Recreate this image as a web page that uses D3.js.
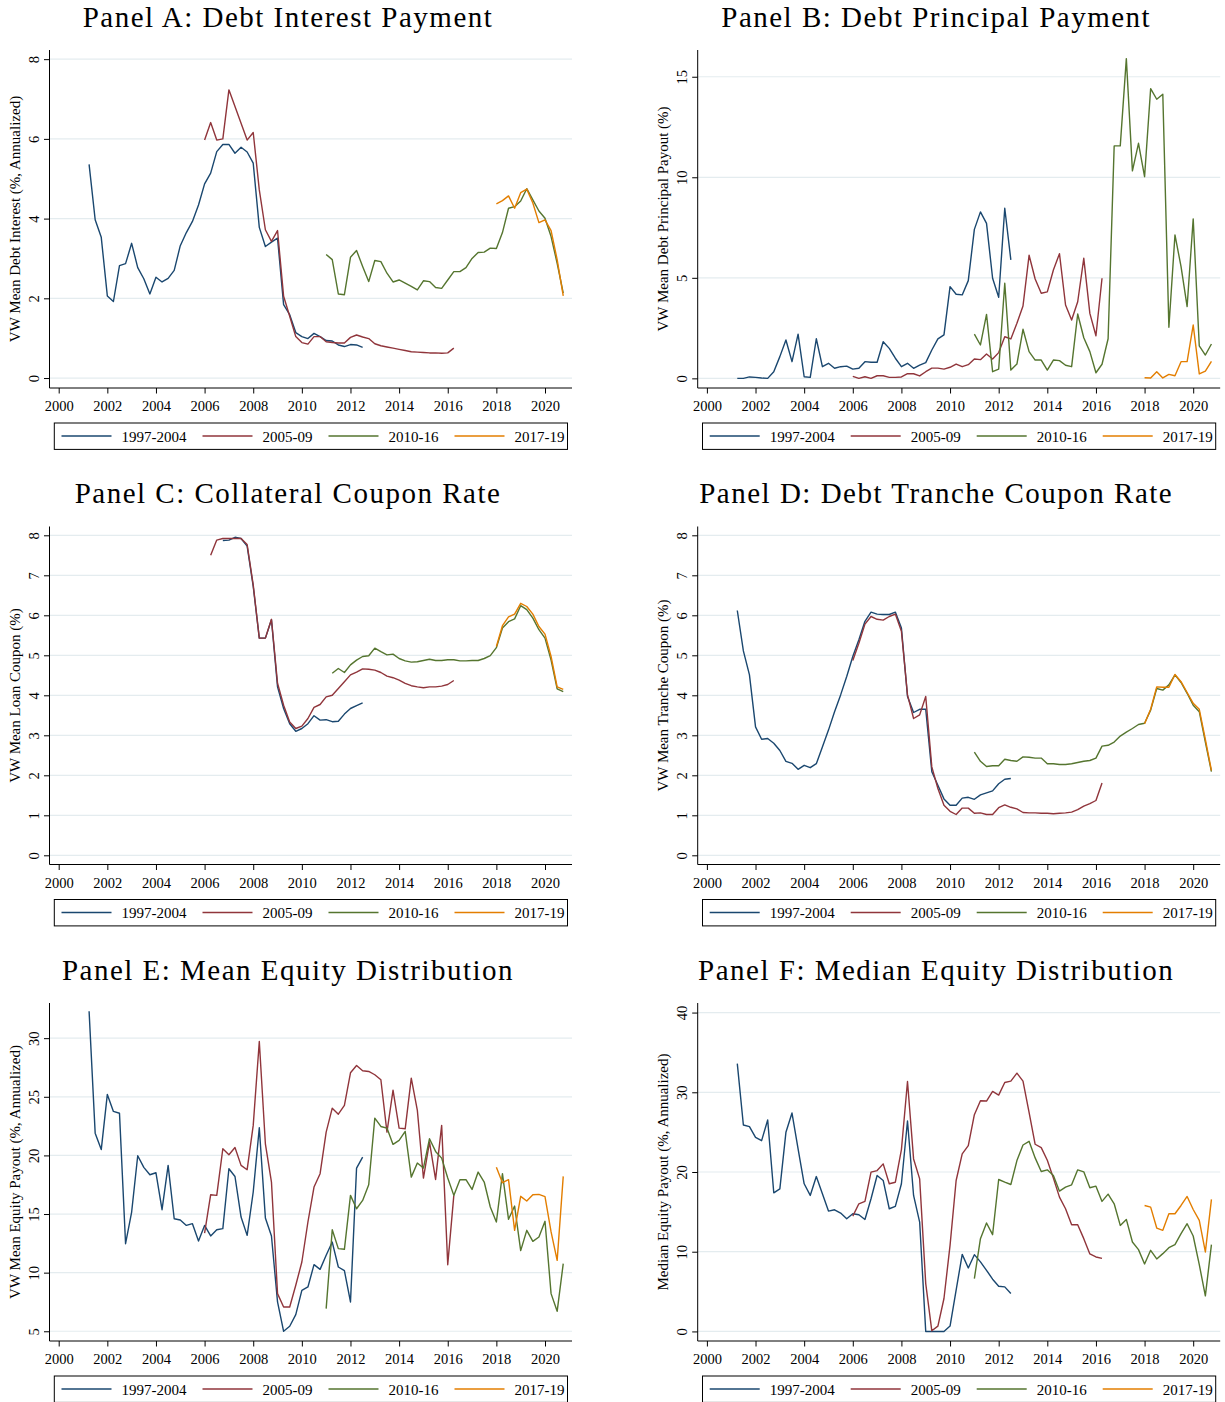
<!DOCTYPE html>
<html>
<head>
<meta charset="utf-8">
<script src="https://cdn.jsdelivr.net/npm/d3@7"></script>
<style>
  body { margin: 0; background: #fff; }
  svg { display: block; }
</style>
</head>
<body>
<div id="chart"></div>
<script>
// vintages and their colours (Stata s2color)
let vintages = ["1997-2004", "2005-09", "2010-16", "2017-19"];
let colors = ["#1a476f", "#90353b", "#55752f", "#e37e00"];

// first quarter of each series (year + (q-1)/4)
let starts = [2001.25, 2006.0, 2011.0, 2018.0];
let startsC = [2006.75, 2006.25, 2011.25, 2018.0];

// Panel A: debt interest payment
let aBlue = [5.36,3.97,3.53,2.06,1.92,2.82,2.87,3.38,2.77,2.49,2.11,2.53,2.41,2.50,2.70,3.32,3.65,3.93,4.34,4.87,5.14,5.68,5.86,5.86,5.64,5.79,5.67,5.39,3.78,3.30,3.41,3.51,1.84,1.59,1.14,1.04,0.99,1.12,1.04,0.94,0.93,0.83,0.79,0.84,0.83,0.77];
let aRed = [5.97,6.41,5.97,6.00,7.23,6.81,6.39,5.97,6.16,4.72,3.72,3.43,3.70,2.05,1.55,1.04,0.89,0.85,1.04,1.04,0.91,0.89,0.88,0.88,1.02,1.08,1.03,0.99,0.86,0.81,0.78,0.75,0.72,0.69,0.66,0.65,0.64,0.63,0.63,0.62,0.63,0.75];
let aGreen = [3.10,2.97,2.11,2.09,3.03,3.20,2.80,2.42,2.95,2.92,2.63,2.41,2.46,2.38,2.30,2.21,2.44,2.42,2.27,2.25,2.46,2.67,2.67,2.77,3.00,3.15,3.16,3.26,3.25,3.65,4.26,4.30,4.44,4.75,4.47,4.19,4.01,3.55,2.88,2.13];
let aOrange = [4.37,4.45,4.57,4.26,4.65,4.74,4.39,3.90,3.97,3.70,2.97,2.06];

// Panel B: debt principal payment
let bBlue = [0.00,0.00,0.07,0.05,0.02,0.00,0.33,1.08,1.91,0.83,2.20,0.08,0.05,1.97,0.58,0.75,0.50,0.58,0.61,0.46,0.50,0.83,0.80,0.80,1.82,1.49,1.00,0.58,0.75,0.50,0.66,0.78,1.41,1.96,2.16,4.56,4.18,4.15,4.86,7.41,8.28,7.71,4.98,4.03,8.46,5.89];
let bRed = [0.10,0.00,0.08,0.00,0.13,0.13,0.05,0.05,0.07,0.23,0.23,0.12,0.33,0.51,0.51,0.46,0.55,0.71,0.58,0.68,0.96,0.93,1.21,0.96,1.28,2.07,1.96,2.74,3.60,6.12,4.94,4.23,4.30,5.39,6.20,3.65,2.90,3.81,5.97,3.23,2.12,4.98];
let bGreen = [2.20,1.66,3.18,0.33,0.46,4.73,0.41,0.71,2.44,1.33,0.91,0.91,0.41,0.91,0.88,0.65,0.58,3.20,2.02,1.33,0.28,0.70,1.97,11.56,11.56,15.90,10.32,11.69,10.03,14.41,13.88,14.13,2.54,7.13,5.56,3.57,7.93,1.61,1.16,1.71];
let bOrange = [0.03,0.02,0.33,0.02,0.20,0.13,0.83,0.83,2.65,0.22,0.36,0.85];

// Panel C: collateral coupon rate
let cBlue = [7.87,7.88,7.95,7.92,7.73,6.72,5.43,5.43,5.89,4.21,3.67,3.29,3.10,3.17,3.29,3.49,3.38,3.39,3.34,3.35,3.53,3.67,3.74,3.81];
let cRed = [7.50,7.88,7.92,7.92,7.92,7.92,7.77,6.76,5.43,5.43,5.90,4.30,3.75,3.33,3.17,3.23,3.42,3.70,3.77,3.96,4.00,4.17,4.34,4.51,4.58,4.66,4.65,4.63,4.57,4.48,4.44,4.38,4.30,4.24,4.21,4.19,4.21,4.21,4.23,4.27,4.37];
let cGreen = [4.55,4.67,4.57,4.76,4.88,4.97,4.99,5.18,5.09,5.01,5.03,4.92,4.86,4.83,4.84,4.87,4.90,4.87,4.87,4.89,4.89,4.86,4.86,4.87,4.87,4.92,4.99,5.19,5.68,5.84,5.91,6.24,6.14,5.93,5.64,5.43,4.88,4.16,4.09];
let cOrange = [5.22,5.74,5.96,6.03,6.30,6.22,6.03,5.72,5.53,4.97,4.21,4.15];

// Panel D: debt tranche coupon rate
let dBlue = [6.12,5.11,4.51,3.21,2.90,2.92,2.80,2.62,2.35,2.30,2.15,2.25,2.19,2.29,2.71,3.13,3.59,4.01,4.47,4.97,5.39,5.85,6.08,6.03,6.02,6.02,6.08,5.68,3.97,3.57,3.65,3.65,2.09,1.75,1.41,1.25,1.25,1.43,1.45,1.40,1.51,1.56,1.61,1.79,1.90,1.92];
let dRed = [4.87,5.30,5.78,5.97,5.90,5.88,5.97,6.03,5.60,4.01,3.42,3.51,3.97,2.21,1.67,1.25,1.10,1.02,1.18,1.18,1.05,1.06,1.02,1.02,1.19,1.26,1.20,1.16,1.07,1.06,1.06,1.05,1.05,1.04,1.05,1.06,1.08,1.14,1.23,1.29,1.37,1.81];
let dGreen = [2.58,2.35,2.22,2.24,2.24,2.40,2.37,2.35,2.46,2.45,2.43,2.43,2.29,2.29,2.27,2.27,2.29,2.32,2.35,2.37,2.43,2.73,2.75,2.83,2.98,3.08,3.17,3.27,3.30,3.63,4.17,4.13,4.26,4.51,4.32,4.05,3.75,3.59,2.83,2.09];
let dOrange = [3.29,3.65,4.21,4.20,4.20,4.52,4.34,4.07,3.80,3.65,2.90,2.12];

// Panel E: mean equity distribution
let eBlue = [32.3,21.9,20.5,25.2,23.75,23.6,12.47,15.17,19.97,18.98,18.35,18.52,15.37,19.15,14.6,14.49,14.03,14.18,12.7,14.03,13.13,13.66,13.75,18.86,18.2,14.74,13.18,16.88,22.36,14.66,13.13,7.5,5.0,5.43,6.42,8.49,8.78,10.68,10.28,11.48,12.61,10.48,10.17,7.5,18.92,19.86];
let eRed = [13.38,16.65,16.59,20.57,20.06,20.68,19.15,18.78,22.56,29.72,20.99,17.73,8.21,7.07,7.07,8.92,10.91,14.32,17.3,18.44,21.99,24.03,23.52,24.26,27.05,27.67,27.22,27.16,26.88,26.45,21.99,25.57,22.33,22.27,26.59,23.84,18.07,21.14,17.95,22.56,10.68,16.59];
let eGreen = [6.93,13.66,12.05,11.99,16.59,15.45,16.16,17.5,23.18,22.47,22.33,20.94,21.28,22.05,18.15,19.35,18.92,21.42,20.34,19.77,18.07,16.59,17.93,17.93,17.1,18.58,17.73,15.6,14.32,18.44,14.55,15.68,11.88,13.61,12.67,13.04,14.38,8.21,6.7,10.77];
let eOrange = [19.0,17.67,17.93,13.61,16.51,16.11,16.65,16.68,16.48,13.47,11.05,18.21];

// Panel F: median equity distribution
let fBlue = [33.6,25.9,25.7,24.35,23.93,26.52,17.39,17.89,24.98,27.4,22.89,18.52,17.06,19.43,17.27,15.1,15.26,14.85,14.14,14.76,14.64,14.05,16.64,19.56,18.94,15.39,15.68,18.52,26.4,17.06,13.72,0,0,0,0,0.67,5.17,9.67,7.96,9.63,8.72,7.67,6.55,5.67,5.59,4.75];
let fRed = [14.47,16.01,16.31,19.98,20.18,21.02,18.52,18.72,22.81,31.36,21.64,19.14,6.0,0.08,0.67,4.13,10.8,18.93,22.27,23.31,27.19,28.94,28.9,30.11,29.65,31.23,31.4,32.4,31.4,27.48,23.48,23.06,21.48,19.23,16.85,15.39,13.39,13.39,11.64,9.72,9.34,9.17];
let fGreen = [6.63,11.64,13.6,12.14,19.06,18.72,18.43,21.43,23.39,23.85,21.77,20.06,20.27,19.56,17.6,18.1,18.39,20.27,20.02,18.02,18.22,16.31,17.22,16.01,13.3,14.05,11.22,10.26,8.47,10.18,9.09,9.76,10.51,10.89,12.26,13.51,11.97,8.38,4.46,10.89];
let fOrange = [15.8,15.6,12.97,12.68,14.76,14.76,15.8,16.93,15.3,13.93,9.97,16.56];

let yearTicks = d3.range(2000, 2021, 2);

let panels = [
  {title: "Panel A: Debt Interest Payment", ylabel: "VW Mean Debt Interest (%, Annualized)",
   series: [aBlue, aRed, aGreen, aOrange], starts: starts, ticks: [0, 2, 4, 6, 8], ydom: [-0.25, 8.23]},
  {title: "Panel B: Debt Principal Payment", ylabel: "VW Mean Debt Principal Payout (%)",
   series: [bBlue, bRed, bGreen, bOrange], starts: starts, ticks: [0, 5, 10, 15], ydom: [-0.48, 16.33]},
  {title: "Panel C: Collateral Coupon Rate", ylabel: "VW Mean Loan Coupon (%)",
   series: [cBlue, cRed, cGreen, cOrange], starts: startsC, ticks: [0, 1, 2, 3, 4, 5, 6, 7, 8], ydom: [-0.23, 8.22]},
  {title: "Panel D: Debt Tranche Coupon Rate", ylabel: "VW Mean Tranche Coupon (%)",
   series: [dBlue, dRed, dGreen, dOrange], starts: starts, ticks: [0, 1, 2, 3, 4, 5, 6, 7, 8], ydom: [-0.23, 8.22]},
  {title: "Panel E: Mean Equity Distribution", ylabel: "VW Mean Equity Payout (%, Annualized)",
   series: [eBlue, eRed, eGreen, eOrange], starts: starts, ticks: [5, 10, 15, 20, 25, 30], ydom: [4.17, 33.0]},
  {title: "Panel F: Median Equity Distribution", ylabel: "Median Equity Payout (%, Annualized)",
   series: [fBlue, fRed, fGreen, fOrange], starts: starts, ticks: [0, 10, 20, 30, 40], ydom: [-1.2, 41.2]}
];

let width = 1225,
    height = 1402;

let serif = "'Liberation Serif', 'Times New Roman', serif";

let svg = d3.select("#chart")
    .append("svg")
    .attr("width", width)
    .attr("height", height)
    .attr("viewBox", "0 0 " + width + " " + height);

panels.forEach(function(p, i) {
    let col = i % 2, row = Math.floor(i / 2);
    let x0 = col ? 697.7 : 49.5;       // y-axis position
    let top = 50 + row * 476.5;
    let bottom = 388 + row * 476.5;    // x-axis position
    let right = x0 + 522.5;

    let x = d3.scaleLinear().domain([2000, 2020]).range([x0 + 9.2, x0 + 495.5]);
    let y = d3.scaleLinear().domain(p.ydom).range([bottom, top]);

    let g = svg.append("g");

    // title (wider spacing, closer to the LaTeX font of the original)
    g.append("text")
        .attr("x", x0 + 238.5)
        .attr("y", top - 23.3)
        .attr("text-anchor", "middle")
        .style("font-family", serif)
        .style("font-size", "29px")
        .style("letter-spacing", "1.5px")
        .text(p.title);

    // gridlines
    g.selectAll(".grid")
        .data(p.ticks)
        .enter()
        .append("line")
        .attr("x1", x0)
        .attr("x2", right)
        .attr("y1", function(d) { return y(d); })
        .attr("y2", function(d) { return y(d); })
        .style("stroke", "#e4ecef")
        .style("stroke-width", 1.2);

    // y axis
    let yAxis = g.append("g")
        .attr("transform", "translate(" + x0 + ",0)")
        .call(d3.axisLeft(y).tickValues(p.ticks).tickSize(5.5).tickSizeOuter(0).tickFormat(d3.format("d")));
    yAxis.select(".domain").attr("d", "M0," + top + "V" + bottom);
    yAxis.selectAll("text")
        .attr("x", null).attr("dy", null)
        .attr("transform", "translate(-11,0) rotate(-90)")
        .attr("text-anchor", "middle")
        .style("font-family", serif)
        .style("font-size", "14.5px")
        .style("fill", "#000");

    // x axis
    let xAxis = g.append("g")
        .attr("transform", "translate(0," + bottom + ")")
        .call(d3.axisBottom(x).tickValues(yearTicks).tickSize(5.5).tickSizeOuter(0).tickFormat(d3.format("d")));
    xAxis.select(".domain").attr("d", "M" + x0 + ",0H" + right);
    xAxis.selectAll("text")
        .attr("y", 23).attr("dy", null)
        .style("font-family", serif)
        .style("font-size", "14.5px")
        .style("fill", "#000");
    g.selectAll(".domain, .tick line").style("stroke", "#000").style("stroke-width", 1);

    // y-axis title
    g.append("text")
        .attr("transform", "translate(" + (x0 - 30) + "," + ((top + bottom) / 2) + ") rotate(-90)")
        .attr("text-anchor", "middle")
        .style("font-family", serif)
        .style("font-size", "15px")
        .text(p.ylabel);

    // series lines
    let line = d3.line()
        .x(function(d) { return x(d[0]); })
        .y(function(d) { return y(d[1]); });

    g.selectAll(".series")
        .data(p.series)
        .enter()
        .append("path")
        .attr("class", "series")
        .attr("d", function(vals, k) {
            return line(vals.map(function(v, j) { return [p.starts[k] + j / 4, v]; }));
        })
        .style("fill", "none")
        .style("stroke", function(d, k) { return colors[k]; })
        .style("stroke-width", 1.4)
        .style("stroke-linejoin", "round");

    // legend
    let lg = g.append("g");
    lg.append("rect")
        .attr("x", x0 + 4.8)
        .attr("y", bottom + 35)
        .attr("width", 513.2)
        .attr("height", 26.4)
        .style("fill", "#fff")
        .style("stroke", "#000")
        .style("stroke-width", 1);
    let lx = x0 + 12;
    vintages.forEach(function(v, k) {
        lg.append("line")
            .attr("x1", lx).attr("x2", lx + 50)
            .attr("y1", bottom + 48).attr("y2", bottom + 48)
            .style("stroke", colors[k])
            .style("stroke-width", 1.4);
        let t = lg.append("text")
            .attr("x", lx + 60)
            .attr("y", bottom + 53.5)
            .style("font-family", serif)
            .style("font-size", "15px")
            .text(v);
        lx = lx + 60 + t.node().getComputedTextLength() + 16;
    });
});
</script>
</body>
</html>
